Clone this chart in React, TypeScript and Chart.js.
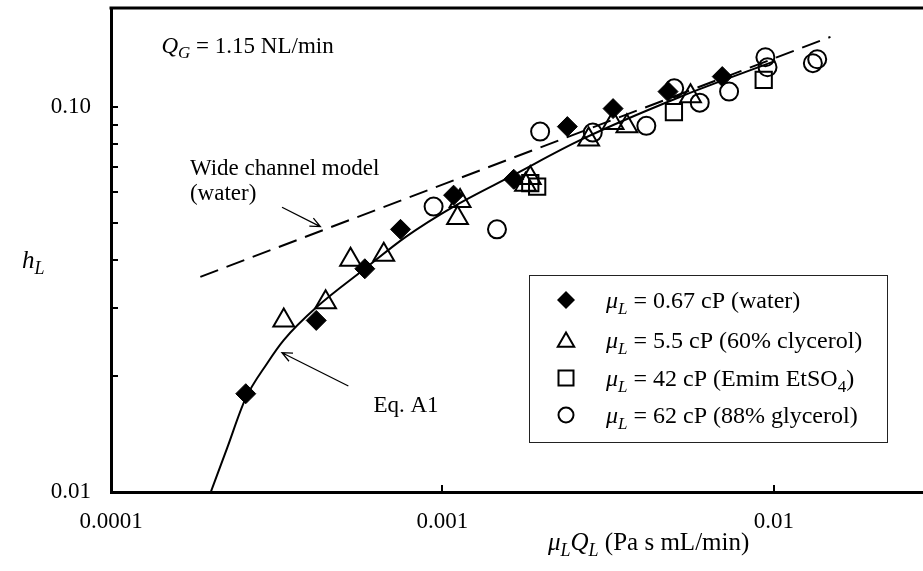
import React, { useEffect, useRef } from 'react';
import { Chart, registerables } from 'chart.js';

Chart.register(...registerables);

const FONT = "'Liberation Serif', 'Times New Roman', serif";
const FS = 23;
const LEG_FS = 24;
const TITLE_FS = 25;

// ---- data ----
const waterX = [0.000255, 0.000416, 0.000583, 0.000747, 0.00108, 0.00164, 0.00238, 0.00327, 0.00479, 0.00698];
const waterY = [0.0180, 0.0279, 0.0380, 0.0481, 0.0590, 0.0649, 0.0889, 0.0990, 0.1096, 0.1199];

const gly60X = [0.000332, 0.000444, 0.000528, 0.000665, 0.00111, 0.00113, 0.00178, 0.00184, 0.00276, 0.00327, 0.00360, 0.00560];
const gly60Y = [0.0279, 0.0311, 0.0401, 0.0413, 0.0515, 0.0570, 0.0628, 0.0654, 0.0823, 0.0908, 0.0891, 0.1066];

const emimX = [0.00184, 0.00193, 0.00499, 0.00931];
const emimY = [0.0634, 0.0621, 0.0970, 0.1175];

const gly88X = [0.00094, 0.00146, 0.00197, 0.00284, 0.00412, 0.00500, 0.00597, 0.00732, 0.00942, 0.00956, 0.0131, 0.0135];
const gly88Y = [0.0551, 0.0481, 0.0863, 0.0858, 0.0893, 0.1118, 0.1026, 0.1096, 0.1346, 0.1268, 0.1299, 0.1330];

const eqX = [0.000200, 0.000224, 0.000254, 0.000296, 0.000332, 0.000419, 0.000583, 0.000773, 0.00108, 0.00164, 0.00261, 0.00522, 0.0101];
const eqY = [0.0100, 0.0130, 0.0174, 0.0216, 0.0248, 0.0303, 0.0380, 0.0459, 0.0551, 0.0666, 0.0821, 0.1063, 0.1317];

const wideX = [0.000186, 0.0148];
const wideY = [0.0362, 0.152];

const xMajorTicks = [0.0001, 0.001, 0.01];
const xTickLabels = ['0.0001', '0.001', '0.01'];
const yMajorTicks = [0.01, 0.1];
const yTickLabels = ['0.01', '0.10'];
const yMinorTicks = [0.01, 0.02, 0.03, 0.04, 0.05, 0.06, 0.07, 0.08, 0.09, 0.1];

const X_MIN = 0.0001;
const X_MAX = 0.02815;
const Y_MIN = 0.01;
const Y_MAX = 0.1807;

const legendLabels = [
  ['0.67 cP (water)'],
  ['5.5 cP (60% clycerol)'],
  ['42 cP (Emim EtSO', '4', ')'],
  ['62 cP (88% glycerol)'],
];

// annotation anchors in data coordinates
const qgAnchor = { x: 0.000142, y: 0.1381 };
const wideTextAnchor = { x: 0.000173, y: 0.0664 };
const wideText2Anchor = { x: 0.000173, y: 0.0573 };
const wideArrowFrom = { x: 0.000328, y: 0.0549 };
const wideArrowTo = { x: 0.000428, y: 0.0489 };
const eqTextAnchor = { x: 0.000619, y: 0.01609 };
const eqArrowFrom = { x: 0.000520, y: 0.01885 };
const eqArrowTo = { x: 0.000328, y: 0.0230 };

const pts = (xs: number[], ys: number[]) => xs.map((x, i) => ({ x, y: ys[i] }));
const isIn = (v: number, arr: number[]) => arr.findIndex((m) => Math.abs(Math.log10(v) - Math.log10(m)) < 1e-6);

type Seg = { t: string; i?: boolean; s?: boolean };

function drawRich(ctx: CanvasRenderingContext2D, segs: Seg[], x: number, y: number, size: number) {
  ctx.textAlign = 'left';
  ctx.textBaseline = 'alphabetic';
  ctx.fillStyle = '#000';
  let cx = x;
  for (const s of segs) {
    ctx.font = `${s.i ? 'italic ' : ''}${s.s ? Math.round(size * 0.72) : size}px ${FONT}`;
    ctx.fillText(s.t, cx, y + (s.s ? size * 0.24 : 0));
    cx += ctx.measureText(s.t).width;
  }
}

function drawArrow(ctx: CanvasRenderingContext2D, x1: number, y1: number, x2: number, y2: number) {
  ctx.save();
  ctx.strokeStyle = '#000';
  ctx.lineWidth = 1.3;
  ctx.beginPath();
  ctx.moveTo(x1, y1);
  ctx.lineTo(x2, y2);
  const a = Math.atan2(y2 - y1, x2 - x1);
  const L = 11;
  const h = 0.42;
  ctx.moveTo(x2 - L * Math.cos(a - h), y2 - L * Math.sin(a - h));
  ctx.lineTo(x2, y2);
  ctx.lineTo(x2 - L * Math.cos(a + h), y2 - L * Math.sin(a + h));
  ctx.stroke();
  ctx.restore();
}

const zeroPad = (scale: any) => {
  scale.paddingTop = 0;
  scale.paddingBottom = 0;
  scale.paddingLeft = 0;
  scale.paddingRight = 0;
};

const decorPlugin = {
  id: 'decor',
  afterDraw(chart: any) {
    const ctx: CanvasRenderingContext2D = chart.ctx;
    const { left, right, top, bottom } = chart.chartArea;
    const xs = chart.scales.x;
    const ys = chart.scales.y;
    const px = (p: { x: number; y: number }) => [xs.getPixelForValue(p.x), ys.getPixelForValue(p.y)];
    ctx.save();

    // top frame line
    ctx.strokeStyle = '#000';
    ctx.lineWidth = 3;
    ctx.beginPath();
    ctx.moveTo(left - 1.5, top);
    ctx.lineTo(right, top);
    ctx.stroke();

    // inward ticks
    ctx.lineWidth = 2;
    ctx.beginPath();
    for (const v of yMinorTicks) {
      const y = Math.round(ys.getPixelForValue(v));
      ctx.moveTo(left, y);
      ctx.lineTo(left + 7, y);
    }
    for (const v of xMajorTicks) {
      const x = Math.round(xs.getPixelForValue(v));
      ctx.moveTo(x, bottom);
      ctx.lineTo(x, bottom - 7);
    }
    ctx.stroke();

    // Q_G annotation
    {
      const [x, y] = px(qgAnchor);
      drawRich(ctx, [{ t: 'Q', i: true }, { t: 'G', i: true, s: true }, { t: ' = 1.15 NL/min' }], x, y, FS);
    }
    // wide channel model
    {
      const [x, y] = px(wideTextAnchor);
      drawRich(ctx, [{ t: 'Wide channel model' }], x, y, FS);
      const [x2, y2] = px(wideText2Anchor);
      drawRich(ctx, [{ t: '(water)' }], x2, y2, FS);
      const [a1, b1] = px(wideArrowFrom);
      const [a2, b2] = px(wideArrowTo);
      drawArrow(ctx, a1, b1, a2, b2);
    }
    // Eq. A1
    {
      const [x, y] = px(eqTextAnchor);
      drawRich(ctx, [{ t: 'Eq. A1' }], x, y, FS);
      const [a1, b1] = px(eqArrowFrom);
      const [a2, b2] = px(eqArrowTo);
      drawArrow(ctx, a1, b1, a2, b2);
    }

    // axis titles
    drawRich(ctx, [{ t: 'h', i: true }, { t: 'L', i: true, s: true }], 22, 268, TITLE_FS);
    drawRich(
      ctx,
      [{ t: 'μ', i: true }, { t: 'L', i: true, s: true }, { t: 'Q', i: true }, { t: 'L', i: true, s: true }, { t: ' (Pa s mL/min)' }],
      548,
      550,
      TITLE_FS
    );

    // legend
    const bx = 529.5, by = 275.5, bw = 358, bh = 167;
    ctx.fillStyle = '#fff';
    ctx.fillRect(bx, by, bw, bh);
    ctx.strokeStyle = '#222';
    ctx.lineWidth = 1;
    ctx.strokeRect(bx, by, bw, bh);
    const rowsY = [300, 340, 378, 415];
    const mx = 566;
    ctx.strokeStyle = '#000';
    ctx.fillStyle = '#000';
    // diamond
    ctx.beginPath();
    ctx.moveTo(mx, rowsY[0] - 9);
    ctx.lineTo(mx + 9, rowsY[0]);
    ctx.lineTo(mx, rowsY[0] + 9);
    ctx.lineTo(mx - 9, rowsY[0]);
    ctx.closePath();
    ctx.fill();
    ctx.lineWidth = 2;
    // triangle
    {
      const r = 9.5;
      const cy = rowsY[1] + 2;
      ctx.beginPath();
      ctx.moveTo(mx, cy - r);
      ctx.lineTo(mx + r * 0.866, cy + r / 2);
      ctx.lineTo(mx - r * 0.866, cy + r / 2);
      ctx.closePath();
      ctx.stroke();
    }
    // square
    ctx.strokeRect(mx - 7.5, rowsY[2] - 7.5, 15, 15);
    // circle
    ctx.beginPath();
    ctx.arc(mx, rowsY[3], 7.5, 0, Math.PI * 2);
    ctx.stroke();

    const tx = 606;
    legendLabels.forEach((lab, i) => {
      const segs: Seg[] = [{ t: 'μ', i: true }, { t: 'L', i: true, s: true }, { t: ' = ' + lab[0] }];
      if (lab.length > 1) {
        segs.push({ t: lab[1], s: true });
        segs.push({ t: lab[2] });
      }
      drawRich(ctx, segs, tx, rowsY[i] + 8, LEG_FS);
    });

    ctx.restore();
  },
};

export default function App() {
  const ref = useRef<HTMLCanvasElement | null>(null);

  useEffect(() => {
    if (!ref.current) return;
    const chart = new Chart(ref.current, {
      type: 'scatter',
      data: {
        datasets: [
          {
            label: 'water',
            data: pts(waterX, waterY),
            pointStyle: 'rectRot',
            pointRadius: 10,
            backgroundColor: '#000',
            borderColor: '#000',
            borderWidth: 1,
            showLine: false,
          },
          {
            label: '60% glycerol',
            data: pts(gly60X, gly60Y),
            pointStyle: 'triangle',
            pointRadius: 12,
            backgroundColor: 'rgba(0,0,0,0)',
            borderColor: '#000',
            borderWidth: 2,
            showLine: false,
          },
          {
            label: 'Emim EtSO4',
            data: pts(emimX, emimY),
            pointStyle: 'rect',
            pointRadius: 11.5,
            backgroundColor: 'rgba(0,0,0,0)',
            borderColor: '#000',
            borderWidth: 2,
            showLine: false,
          },
          {
            label: '88% glycerol',
            data: pts(gly88X, gly88Y),
            pointStyle: 'circle',
            pointRadius: 9,
            backgroundColor: 'rgba(0,0,0,0)',
            borderColor: '#000',
            borderWidth: 2,
            showLine: false,
          },
          {
            label: 'Eq. A1',
            data: pts(eqX, eqY),
            showLine: true,
            pointRadius: 0,
            borderColor: '#000',
            borderWidth: 2,
            cubicInterpolationMode: 'monotone',
            fill: false,
          },
          {
            label: 'Wide channel model',
            data: pts(wideX, wideY),
            showLine: true,
            pointRadius: 0,
            borderColor: '#000',
            borderWidth: 2,
            borderDash: [19, 9],
            fill: false,
          },
        ],
      },
      options: {
        animation: false,
        responsive: false,
        devicePixelRatio: 1,
        layout: { autoPadding: false, padding: { top: 8, left: 0, right: 0, bottom: 0 } },
        plugins: { legend: { display: false }, tooltip: { enabled: false } },
        scales: {
          x: {
            type: 'logarithmic',
            min: X_MIN,
            max: X_MAX,
            grid: { display: false, drawTicks: false },
            border: { display: true, width: 3, color: '#000' },
            afterBuildTicks: (scale: any) => {
              scale.ticks = scale.ticks.filter((t: any) => isIn(t.value, xMajorTicks) >= 0);
            },
            afterFit: (scale: any) => {
              scale.height = 79;
              zeroPad(scale);
            },
            ticks: {
              autoSkip: false,
              maxRotation: 0,
              padding: 16,
              color: '#000',
              font: { family: FONT, size: FS },
              callback: (v: any) => {
                const i = isIn(Number(v), xMajorTicks);
                return i >= 0 ? xTickLabels[i] : '';
              },
            },
          },
          y: {
            type: 'logarithmic',
            min: Y_MIN,
            max: Y_MAX,
            grid: { display: false, drawTicks: false },
            border: { display: true, width: 3, color: '#000' },
            afterBuildTicks: (scale: any) => {
              scale.ticks = scale.ticks.filter((t: any) => isIn(t.value, yMajorTicks) >= 0);
            },
            afterFit: (scale: any) => {
              scale.width = 111;
              zeroPad(scale);
            },
            ticks: {
              autoSkip: false,
              padding: 20,
              color: '#000',
              font: { family: FONT, size: FS },
              callback: (v: any) => {
                const i = isIn(Number(v), yMajorTicks);
                return i >= 0 ? yTickLabels[i] : '';
              },
            },
          },
        },
      },
      plugins: [decorPlugin],
    } as any);
    return () => chart.destroy();
  }, []);

  return (
    <div style={{ position: 'absolute', left: 0, top: 0, width: 923, height: 571, background: '#fff' }}>
      <canvas ref={ref} width={923} height={571} style={{ width: 923, height: 571, display: 'block' }} />
    </div>
  );
}
